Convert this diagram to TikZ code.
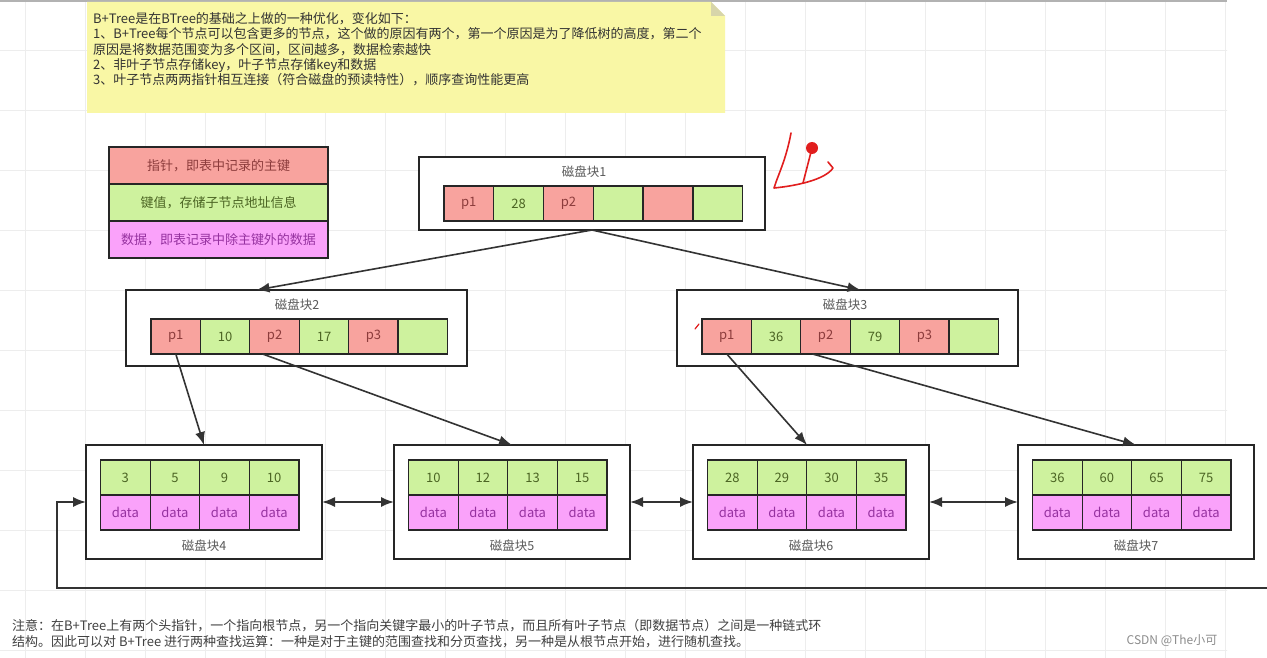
\documentclass[tikz,border=0pt]{standalone}
\usepackage{fontspec}
\setmainfont{Noto Sans CJK SC}
\usetikzlibrary{arrows.meta,positioning,calc}

\definecolor{ptrred}{RGB}{248,163,158}
\definecolor{keygreen}{RGB}{206,242,158}
\definecolor{datpink}{RGB}{250,162,250}
\definecolor{ptrtxt}{RGB}{140,60,60}
\definecolor{keytxt}{RGB}{75,100,35}
\definecolor{dattxt}{RGB}{150,50,160}
\definecolor{notefill}{RGB}{249,247,165}
\definecolor{notefold}{RGB}{215,213,170}
\definecolor{inkred}{RGB}{225,30,30}

\tikzset{
  cell/.style={draw=black!85, line width=1.2pt, minimum width=49.6pt, minimum height=35pt,
    inner sep=0pt, outer sep=0pt, font=\fontsize{13}{15}\selectfont},
  ptr/.style={cell, fill=ptrred, text=ptrtxt},
  key/.style={cell, fill=keygreen, text=keytxt},
  dat/.style={cell, fill=datpink, text=dattxt},
  blk/.style={draw=black!85, line width=1.4pt, fill=white, inner sep=0pt, outer sep=0pt, anchor=north west},
  ttl/.style={text=black!65, font=\fontsize{12.5}{14}\selectfont},
  arr/.style={draw=black!80, line width=1.6pt, -{Latex[length=13pt,width=10pt]}},
  darr/.style={arr, {Latex[length=13pt,width=10pt]}-{Latex[length=13pt,width=10pt]}},
  gridline/.style={draw=black!7, line width=0.8pt},
  ink/.style={draw=inkred, line width=1.6pt, line cap=round, line join=round},
}

\begin{document}
\begin{tikzpicture}[x=1pt,y=-1pt]
\useasboundingbox (0,0) rectangle (1267,658);
\fill[white] (0,0) rectangle (1267,658);

% background grid
\begin{scope}
\clip (0,0) rectangle (1227,658);
\draw[gridline, shift={(25,50)}] (-60,-60) grid[step=60pt] (1260,660);
\fill[black!30] (0,0) rectangle (1227,2);
\end{scope}

% sticky note
\fill[notefill] (87,2) -- (711,2) -- (725,16) -- (725,113) -- (87,113) -- cycle;
\fill[notefold] (711,2) -- (711,16) -- (725,16) -- cycle;
\node[anchor=north west, align=left, inner sep=0pt, text=black!80,
  font=\fontsize{13}{15.4}\selectfont] (note) at (93,12)
  {B+Tree是在BTree的基础之上做的一种优化，变化如下：\\
   1、B+Tree每个节点可以包含更多的节点，这个做的原因有两个，第一个原因是为了降低树的高度，第二个\\
   原因是将数据范围变为多个区间，区间越多，数据检索越快\\
   2、非叶子节点存储key，叶子节点存储key和数据\\
   3、叶子节点两两指针相互连接（符合磁盘的预读特性），顺序查询性能更高};

% legend
\node[ptr, minimum width=219pt, minimum height=37pt, anchor=north west] (lg1) at (109,147) {指针，即表中记录的主键};
\node[key, minimum width=219pt, minimum height=37pt, below=0pt of lg1] (lg2) {键值，存储子节点地址信息};
\node[dat, minimum width=219pt, minimum height=37pt, below=0pt of lg2] (lg3) {数据，即表记录中除主键外的数据};

% root block
\node[blk, minimum width=346pt, minimum height=73pt] (blk1) at (419,157) {};
\node[ttl] (t1) at (584,172) {磁盘块1};
\foreach \lab/\sty [count=\i] in {p1/ptr,28/key,p2/ptr,/key,/ptr,/key}
  \node[\sty, anchor=north west] (b1c\i) at ({444+49.8*(\i-1)},186) {\lab};

% inner blocks
\node[blk, minimum width=341pt, minimum height=76pt] (blk2) at (126,290) {};
\node[ttl] (t2) at (297,305) {磁盘块2};
\foreach \lab/\sty [count=\i] in {p1/ptr,10/key,p2/ptr,17/key,p3/ptr,/key}
  \node[\sty, anchor=north west] (b2c\i) at ({151+49.4*(\i-1)},319) {\lab};

\node[blk, minimum width=341pt, minimum height=76pt] (blk3) at (677,290) {};
\node[ttl] (t3) at (845,305) {磁盘块3};
\foreach \lab/\sty [count=\i] in {p1/ptr,36/key,p2/ptr,79/key,p3/ptr,/key}
  \node[\sty, anchor=north west] (b3c\i) at ({702+49.4*(\i-1)},319) {\lab};

% leaf blocks
\foreach \n/\bx/\keys in {4/86/{3,5,9,10},5/394/{10,12,13,15},6/693/{28,29,30,35},7/1018/{36,60,65,75}} {
  \node[blk, minimum width=236pt, minimum height=114pt] (blk\n) at (\bx,445) {};
  \node[ttl] (t\n) at ($(blk\n.south)+(0,-13)$) {磁盘块\n};
  \foreach \k [count=\j] in \keys {
    \node[key, anchor=north west] (l\n k\j) at ({\bx+14.5+49.6*(\j-1)},460) {\k};
    \node[dat, anchor=north west] (l\n d\j) at ({\bx+14.5+49.6*(\j-1)},495) {data};
  }
}

% pointers
\draw[arr] (blk1.south) -- ($(blk2.north)+(-40,0)$);
\draw[arr] (blk1.south) -- ($(blk3.north)+(13,0)$);
\draw[arr] (b2c1.south) -- (blk4.north);
\draw[arr] ($(b2c3.south)+(-12,0)$) -- (blk5.north);
\draw[arr] (b3c1.south) -- ($(blk6.north)+(-4,0)$);
\draw[arr] ($(b3c3.south)+(-13,0)$) -- (blk7.north);

% leaf links
\draw[darr] (blk4.east) -- (blk5.west);
\draw[darr] (blk5.east) -- (blk6.west);
\draw[darr] (blk6.east) -- (blk7.west);
\coordinate (loopR) at (1267,588);
\draw[arr] (loopR) -| ($(blk4.west)+(-29,0)$) -- (blk4.west);

% bottom note
\node[anchor=north west, align=left, inner sep=0pt, text=black!75,
  font=\fontsize{13}{16}\selectfont] (foot) at (12,619)
  {注意：在B+Tree上有两个头指针，一个指向根节点，另一个指向关键字最小的叶子节点，而且所有叶子节点（即数据节点）之间是一种链式环\\
   结构。因此可以对 B+Tree 进行两种查找运算：一种是对于主键的范围查找和分页查找，另一种是从根节点开始，进行随机查找。};
\node[text=black!45, font=\fontsize{12}{14}\selectfont] (wm) at (1172,641) {CSDN @The小可};

% red handwriting
\draw[ink] (791,133) .. controls (786,160) and (778,175) .. (774,188)
  .. controls (795,186) and (825,180) .. (833,168) -- (828,162);
\draw[ink] (811,152) -- (803,183);
\fill[inkred] (812,148) circle (6pt);
\draw[ink, line width=1.2pt] (695,329) -- (699,324);
\end{tikzpicture}
\end{document}
